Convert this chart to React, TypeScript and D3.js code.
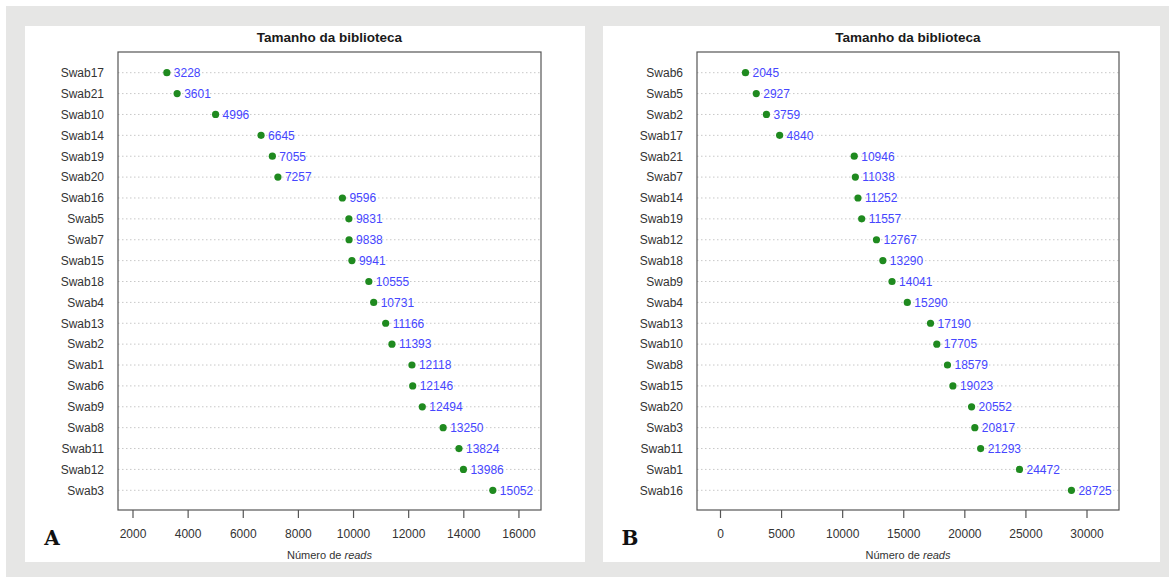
import React from "react";
import * as d3 from "d3";

const samplesA = ["Swab17","Swab21","Swab10","Swab14","Swab19","Swab20","Swab16","Swab5","Swab7","Swab15","Swab18","Swab4","Swab13","Swab2","Swab1","Swab6","Swab9","Swab8","Swab11","Swab12","Swab3"];
const readsA = [3228,3601,4996,6645,7055,7257,9596,9831,9838,9941,10555,10731,11166,11393,12118,12146,12494,13250,13824,13986,15052];
const ticksA = [2000,4000,6000,8000,10000,12000,14000,16000];

const samplesB = ["Swab6","Swab5","Swab2","Swab17","Swab21","Swab7","Swab14","Swab19","Swab12","Swab18","Swab9","Swab4","Swab13","Swab10","Swab8","Swab15","Swab20","Swab3","Swab11","Swab1","Swab16"];
const readsB = [2045,2927,3759,4840,10946,11038,11252,11557,12767,13290,14041,15290,17190,17705,18579,19023,20552,20817,21293,24472,28725];
const ticksB = [0,5000,10000,15000,20000,25000,30000];

const title = "Tamanho da biblioteca";

type PanelProps = {
  px: number; pw: number; letter: string;
  boxL: number; boxR: number;
  domain: [number, number];
  samples: string[]; reads: number[]; ticks: number[];
};

const BOX_T = 52, BOX_B = 510;
const FONT = "'Liberation Sans', Arial, sans-serif";

function Panel({ px, pw, letter, boxL, boxR, domain, samples, reads, ticks }: PanelProps) {
  const x = d3.scaleLinear().domain(domain).range([boxL, boxR]);
  const y = d3.scalePoint<string>().domain(samples).range([72.7, 490.3]);
  const cx = (boxL + boxR) / 2;
  return (
    <g>
      <rect x={px} y={26} width={pw} height={536} fill="#ffffff" />
      <text x={cx} y={42} textAnchor="middle" fontFamily={FONT} fontWeight="bold" fontSize={13.5} fill="#1a1a1a">{title}</text>
      {samples.map((s) => (
        <line key={"g" + s} x1={boxL} x2={boxR} y1={y(s)} y2={y(s)} stroke="#c8c8c8" strokeWidth={1} strokeDasharray="1.5,2.5" />
      ))}
      <rect x={boxL} y={BOX_T} width={boxR - boxL} height={BOX_B - BOX_T} fill="none" stroke="#555" strokeWidth={1.2} />
      {samples.map((s) => (
        <text key={"l" + s} x={boxL - 14} y={(y(s) as number) + 4.3} textAnchor="end" fontFamily={FONT} fontSize={12} fill="#333">{s}</text>
      ))}
      {samples.map((s, i) => (
        <g key={"p" + s}>
          <circle cx={x(reads[i])} cy={y(s)} r={3.6} fill="#1f8a1f" />
          <text x={x(reads[i]) + 7} y={(y(s) as number) + 4.3} fontFamily={FONT} fontSize={12} fill="#4646ff">{reads[i]}</text>
        </g>
      ))}
      {ticks.map((t) => (
        <g key={"t" + t}>
          <line x1={x(t)} x2={x(t)} y1={BOX_B} y2={BOX_B + 8} stroke="#555" strokeWidth={1.2} />
          <text x={x(t)} y={538} textAnchor="middle" fontFamily={FONT} fontSize={12} fill="#333">{t}</text>
        </g>
      ))}
      <text x={cx} y={559} textAnchor="middle" fontFamily={FONT} fontSize={11} fill="#333">
        Número de <tspan fontStyle="italic">reads</tspan>
      </text>
      <text x={px + 27} y={545} textAnchor="middle" fontFamily="'DejaVu Serif', 'Liberation Serif', serif" fontWeight="bold" fontSize={20} fill="#111">{letter}</text>
    </g>
  );
}

export default function App() {
  return (
    <svg width={1169} height={577} style={{ position: "absolute", left: 0, top: 0, display: "block" }}>
      <rect x={0} y={0} width={1169} height={577} fill="#ffffff" />
      <rect x={6} y={6} width={1163} height={571} fill="#e6e6e5" />
      <Panel px={25} pw={560} letter="A" boxL={118} boxR={541} domain={[1456, 16800]} samples={samplesA} reads={readsA} ticks={ticksA} />
      <Panel px={603} pw={557} letter="B" boxL={697} boxR={1119} domain={[-1923, 32619]} samples={samplesB} reads={readsB} ticks={ticksB} />
    </svg>
  );
}
